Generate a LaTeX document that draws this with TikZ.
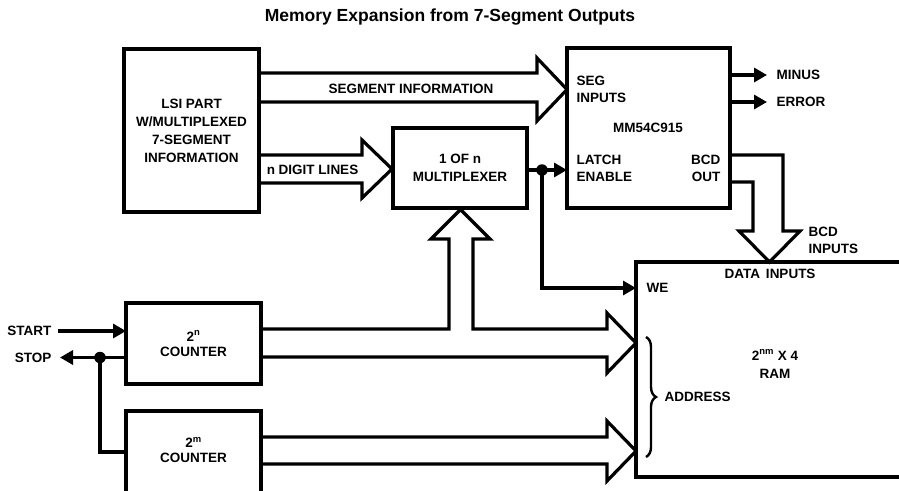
\documentclass[tikz,border=0pt]{standalone}
\usepackage{fontspec}
\setmainfont{Liberation Sans}
\usetikzlibrary{arrows.meta,decorations.pathreplacing,calc}
\begin{document}
\begin{tikzpicture}[x=1pt,y=-1pt,line width=3.2pt,line join=miter,
  box/.style={draw,inner sep=0pt,outer sep=0pt},
  lbl/.style={inner sep=0pt,font=\bfseries\fontsize{13.5}{18}\selectfont,align=center},
  tight/.style={font=\bfseries\fontsize{13.5}{15}\selectfont},
  mid/.style={font=\bfseries\fontsize{13.5}{17}\selectfont},
  tip/.style={-{Triangle[length=13pt,width=14pt]}},
  dot/.style={circle,fill,inner sep=0pt,minimum size=11.5pt}]
\useasboundingbox (0,0) rectangle (899,490);

% title
\node[lbl,font=\bfseries\fontsize{17.5}{20}\selectfont] (title) at (450,17) {Memory Expansion from 7-Segment Outputs};

% boxes
\node[box,lbl,minimum width=135pt,minimum height=163pt] (lsi) at (191.5,130.5) {LSI PART\\W/MULTIPLEXED\\7-SEGMENT\\INFORMATION};
\node[box,minimum width=163pt,minimum height=160pt] (mm) at (648.5,128) {};
\node[box,lbl,minimum width=134pt,minimum height=80pt] (mux) at (460,168) {1 OF n\\MULTIPLEXER};
\node[box,lbl,tight,minimum width=135pt,minimum height=81pt] (cn) at (193.5,343.5) {2\textsuperscript{n}\\COUNTER};
\node[box,minimum width=135pt,minimum height=82pt] (cm) at (193.5,452) {};
\node[lbl,tight] (cmt) at (193.5,450) {2\textsuperscript{m}\\COUNTER};
\node[box,minimum width=280pt,minimum height=215pt] (ram) at (776,369.5) {};

% MM54C915 texts
\node[lbl,mid,anchor=west,align=left] (seg) at (575,89) {SEG\\INPUTS};
\node[lbl] (mmt) at (648,128) {MM54C915};
\node[lbl,mid,anchor=west,align=left] (latch) at (575,168.5) {LATCH\\ENABLE};
\node[lbl,mid,anchor=east,align=right] (bcdout) at (722,168) {BCD\\OUT};

% RAM texts
\node[lbl] (datain) at (770,274) {DATA\hspace{6pt}INPUTS};
\node[lbl,anchor=west] (we) at (645,288) {WE};
\node[lbl] (ramt) at (775,364) {2\textsuperscript{nm} X 4\\RAM};
\node[lbl,anchor=west] (addr) at (663,397) {ADDRESS};
\node[lbl,mid,anchor=west,align=left] (bcdin) at (807,240.5) {BCD\\INPUTS};

% outputs
\node[lbl,anchor=west] (minus) at (775,75) {MINUS};
\node[lbl,anchor=west] (error) at (775,102) {ERROR};
\draw[tip] (mm.east|-minus) -- ($(minus.west)+(-8,0)$);
\draw[tip] (mm.east|-error) -- ($(error.west)+(-8,0)$);

% start / stop
\node[lbl,anchor=east] (start) at (53,331) {START};
\node[lbl,anchor=east] (stop) at (53,357.5) {STOP};
\draw[tip] ($(start.east)+(5,0)$) -- (cn.west|-start);
\draw[tip] (cn.west|-stop) -- ($(stop.east)+(7,0)$);
\node[dot] (sd) at (100,357.5) {};
\draw (sd.center) |- (cm.west);

% latch enable / WE
\node[dot] (ld) at (542,170) {};
\draw[tip] (mux.east|-ld) -- (mm.west|-ld);
\draw[tip] (ld.center) |- (ram.west|-we);

% bus: segment information
\draw (259,73) -- (537,73) -- (537,58) -- (567,89.5) -- (537,121) -- (537,102) -- (259,102);
\node[lbl] (segi) at (411,89) {SEGMENT INFORMATION};

% bus: n digit lines
\draw (259,155) -- (362,155) -- (362,140) -- (392,169) -- (362,198) -- (362,183) -- (259,183);
\node[lbl] (dig) at (312.5,170) {n DIGIT LINES};

% bus: 2^n counter to mux and ram
\draw (261,329) -- (449,329) -- (449,239) -- (431,239) -- (460.5,209.5) -- (490,239) -- (473,239)
      -- (473,329) -- (607,329) -- (607,313) -- (636,343) -- (607,373) -- (607,357) -- (261,357);

% bus: 2^m counter to ram
\draw (261,437) -- (607,437) -- (607,421) -- (636,451) -- (607,481) -- (607,464) -- (261,464);

% bus: BCD out to data inputs
\draw (730,155) -- (783,155) -- (783,231) -- (800,231) -- (769.5,262) -- (739,231) -- (753,231) -- (753,182) -- (730,182);

% address brace
\draw[decorate,decoration={brace,amplitude=10pt},line width=2.4pt] (646,337) -- (646,457);
\end{tikzpicture}
\end{document}
